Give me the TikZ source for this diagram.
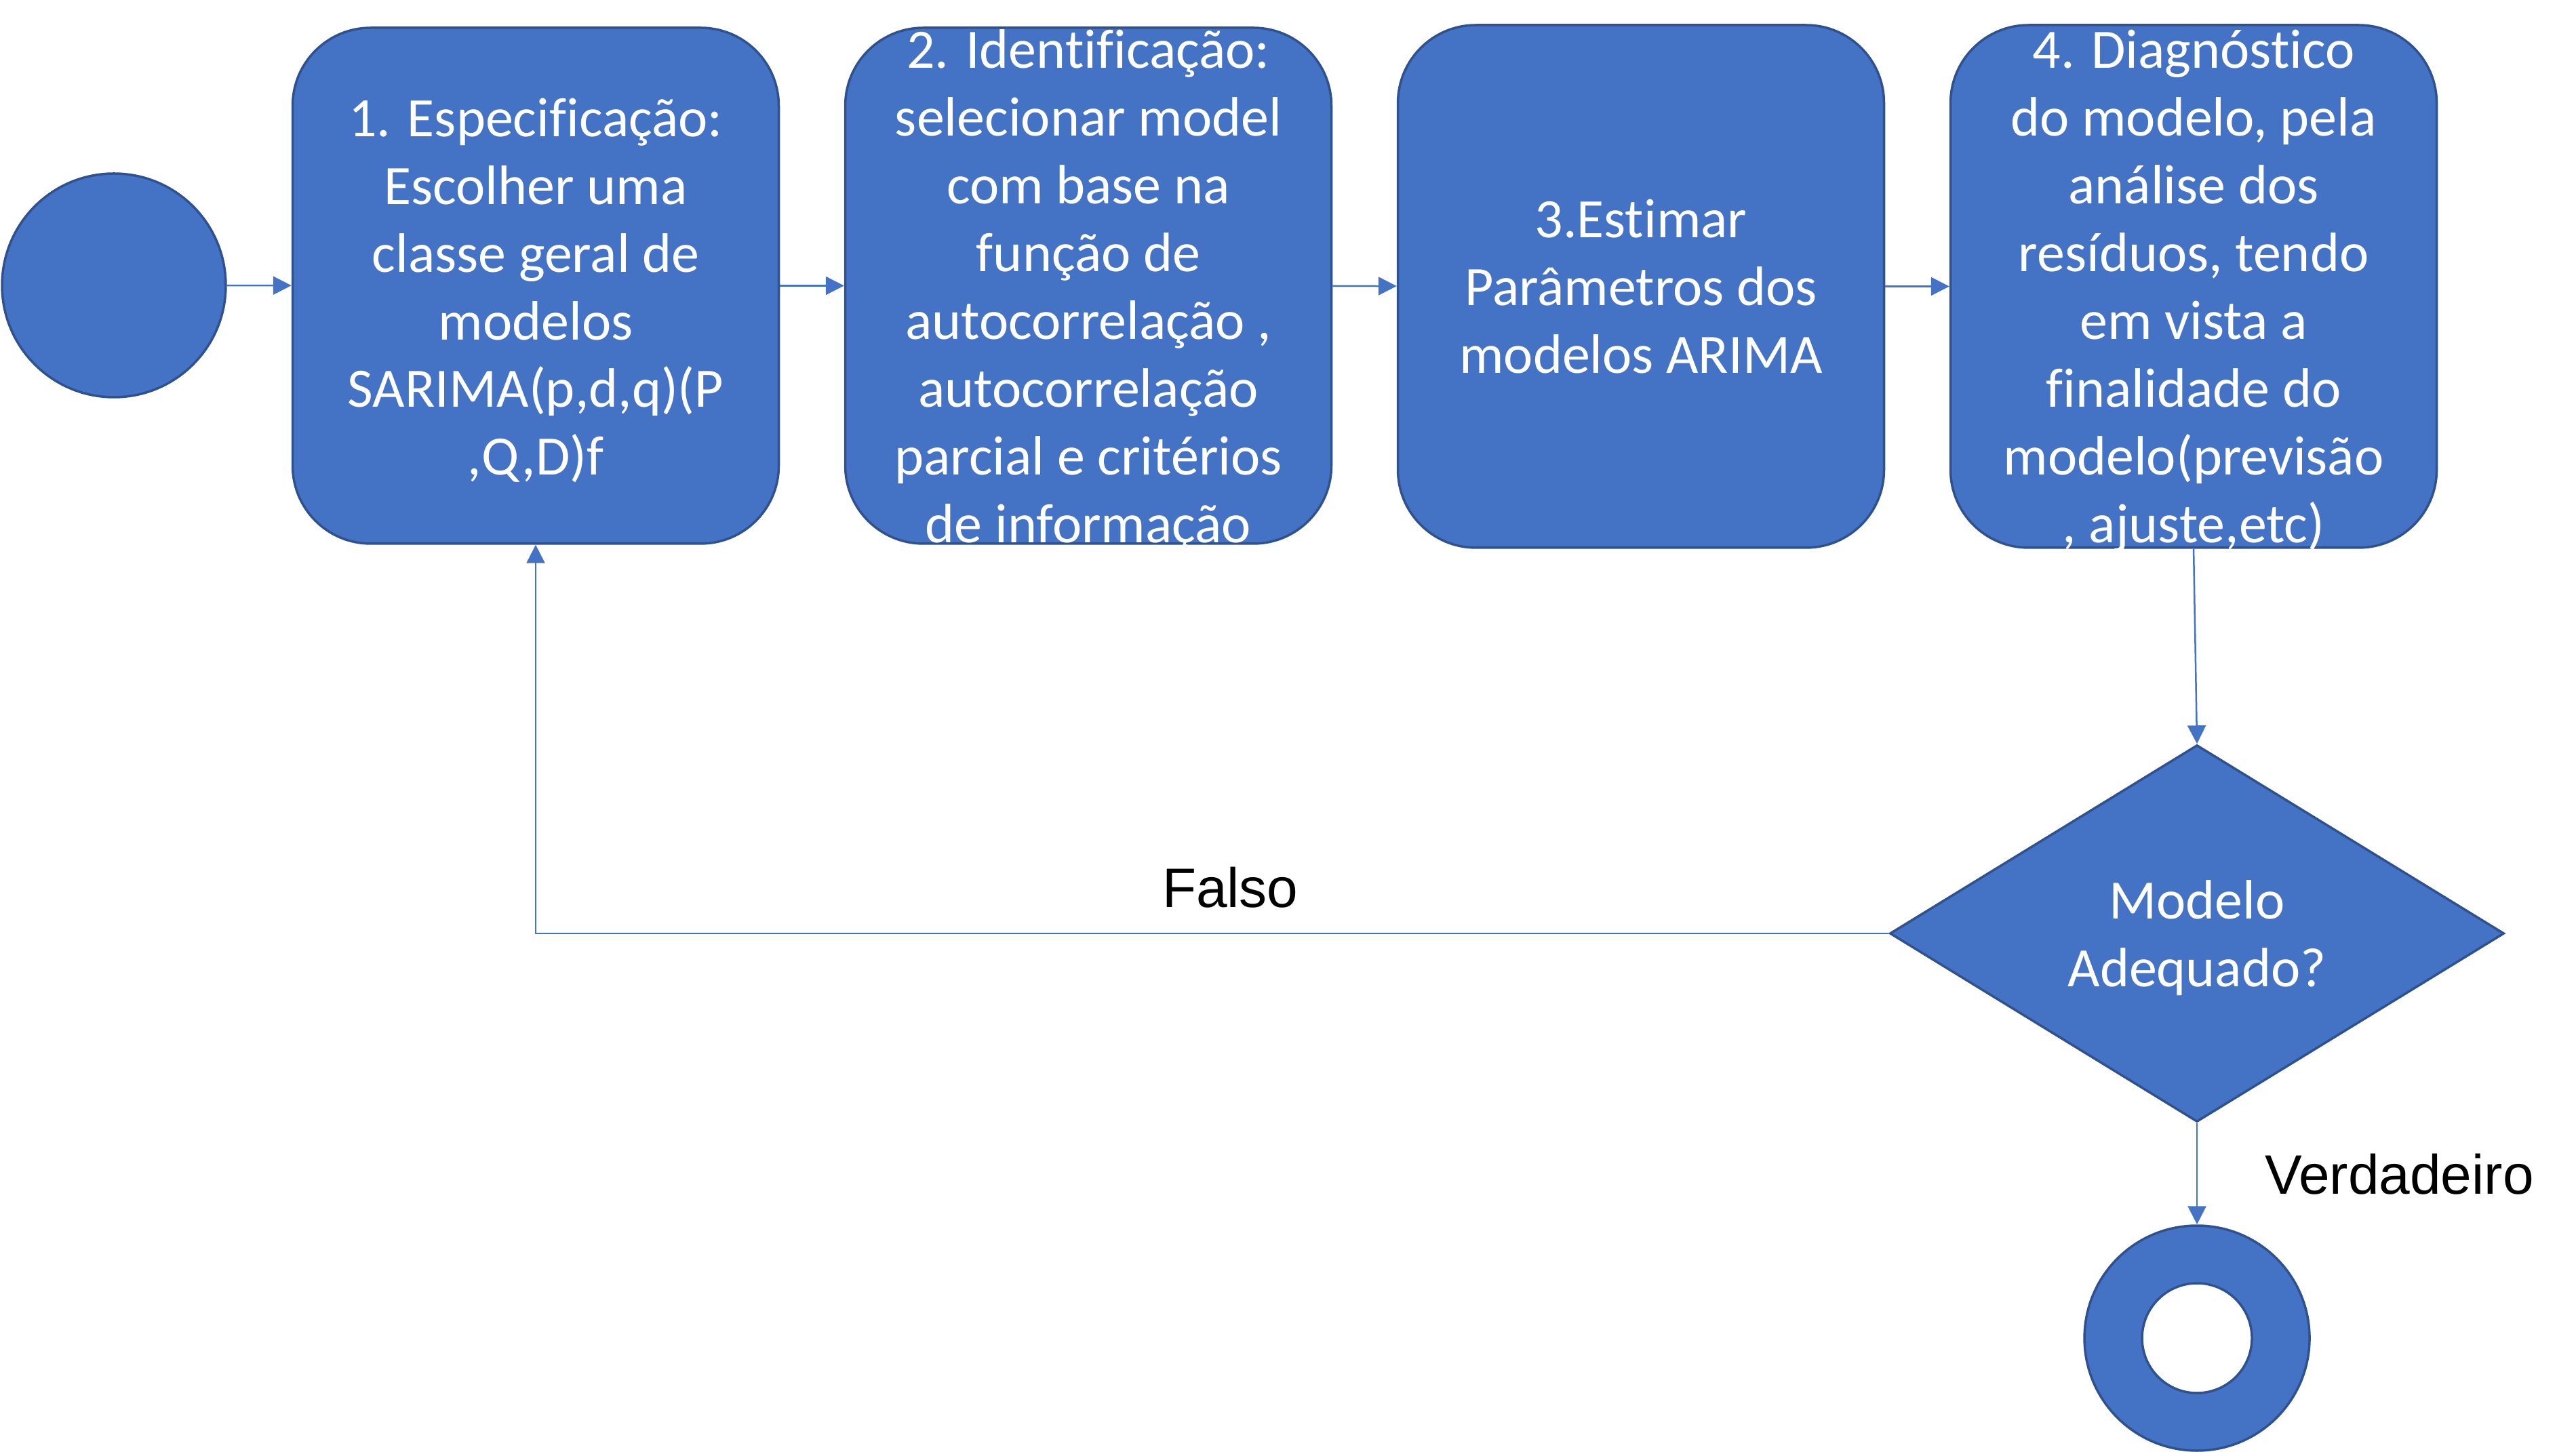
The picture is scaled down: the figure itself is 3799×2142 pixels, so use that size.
\documentclass[tikz,border=0pt]{standalone}
\usepackage{fontspec}
\setmainfont{Carlito}[Ligatures=NoCommon]
\newfontfamily\arialf{Liberation Sans}
\usetikzlibrary{shapes.geometric,arrows.meta}
\definecolor{obl}{HTML}{4472C4}
\definecolor{obd}{HTML}{2F528F}
\begin{document}
\begin{tikzpicture}[x=0.1pt,y=-0.1pt,
  stepbox/.style={draw=obd, line width=0.35pt, fill=obl, rounded corners=11.5pt,
    minimum width=71.7pt, minimum height=76.1pt, inner sep=0pt},
  tallbox/.style={stepbox, minimum height=77.1pt},
  boxtext/.style={text=white, align=center, font=\fontsize{8.2}{10}\selectfont, inner sep=0pt, yshift=-0.7pt},
  conn/.style={draw=obl, line width=0.25pt, -{Triangle[length=2.7pt,width=2.7pt]}},
  lbl/.style={font=\arialf\fontsize{8.2}{10}\selectfont, inner sep=0pt},
  startev/.style={circle, draw=obd, fill=obl, line width=0.35pt, minimum size=33pt, inner sep=0pt},
  decision/.style={diamond, draw=obd, fill=obl, line width=0.35pt, minimum width=90.6pt,
    minimum height=55.6pt, aspect=1.63, inner sep=0pt}]
\useasboundingbox (0,0) rectangle (3799,2142);

\node[startev] (start) at (168,421) {};

\node[stepbox, label={[boxtext]center:{1. Especificação:\\Escolher uma\\classe geral de\\modelos\\SARIMA(p,d,q)(P\\,Q,D)f}}] (b1) at (790,421.5) {};
\node[stepbox, label={[boxtext]center:{2. Identificação:\\selecionar model\\com base na\\função de\\autocorrelação ,\\autocorrelação\\parcial e critérios\\de informação}}] (b2) at (1605,421.5) {};
\node[tallbox, label={[boxtext, yshift=0.7pt]center:{3.Estimar\\Parâmetros dos\\modelos ARIMA}}] (b3) at (2420,422.5) {};
\node[tallbox, label={[boxtext]center:{4. Diagnóstico\\do modelo, pela\\análise dos\\resíduos, tendo\\em vista a\\finalidade do\\modelo(previsão\\, ajuste,etc)}}] (b4) at (3235,422.5) {};

\node[decision, label={[boxtext]center:{Modelo\\Adequado?}}] (dia) at (3240,1377) {};

\node[circle, draw=obd, fill=obl, line width=0.35pt, minimum size=33.2pt, inner sep=0pt] (endev) at (3240,1974) {};
\node[circle, draw=obd, fill=white, line width=0.35pt, minimum size=16.2pt, inner sep=0pt] (endin) at (endev) {};

\node[lbl, anchor=base west] (falso) at (1712,1338) {Falso};
\node[lbl, anchor=base west] (verd) at (3338,1761) {Verdadeiro};

\draw[conn] (start) -- (b1);
\draw[conn] (b1) -- (b2);
\draw[conn] (b2) -- (b3);
\draw[conn] (b3) -- (b4);
\draw[conn] (b4.south) -- (dia.north);
\draw[conn] (dia.west) -| (b1.south);
\draw[conn] (dia.south) -- (endev.north);
\end{tikzpicture}
\end{document}
